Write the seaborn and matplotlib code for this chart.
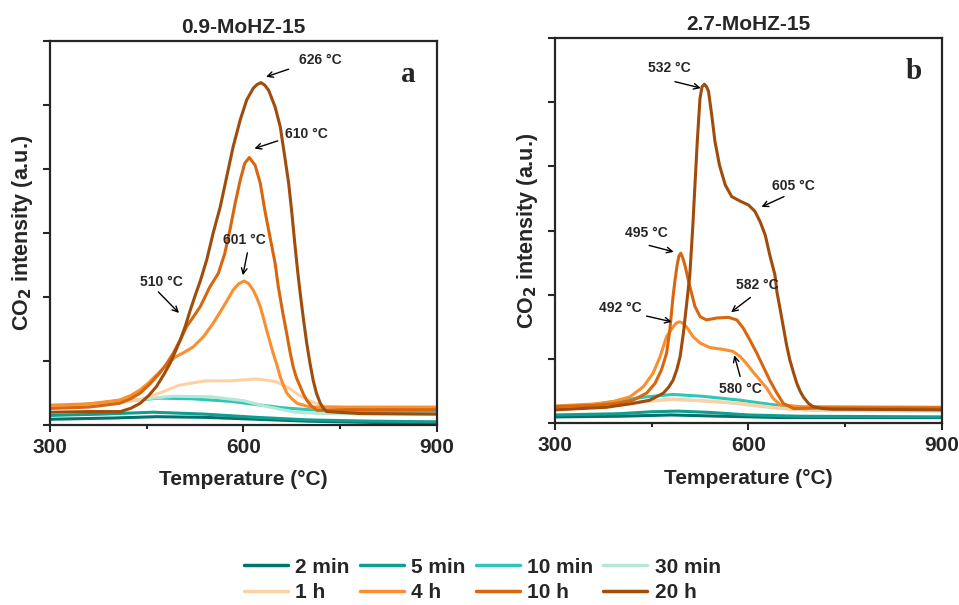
import numpy as np
import pandas as pd
import matplotlib
matplotlib.use("Agg")
import matplotlib.pyplot as plt
import seaborn as sns

# =========================================================
# DATA
# =========================================================

times = ["2 min", "5 min", "10 min", "30 min", "1 h", "4 h", "10 h", "20 h"]
colors = ["#00746c", "#0f9e8f", "#2ec6b6", "#b5e6d6",
          "#fdd1a6", "#f98f2e", "#d8660f", "#a04c0b"]

# ---------------- panel a : 0.9-MoHZ-15 ----------------
a_2min_t = [300, 400, 465, 540, 620, 700, 800, 900]
a_2min_y = [0.09, 0.11, 0.13, 0.12, 0.09, 0.06, 0.04, 0.03]

a_5min_t = [300, 380, 460, 540, 620, 700, 800, 900]
a_5min_y = [0.15, 0.17, 0.20, 0.17, 0.12, 0.08, 0.06, 0.05]

a_10min_t = [300, 360, 420, 470, 520, 580, 620, 660, 700, 750, 900]
a_10min_y = [0.28, 0.33, 0.38, 0.42, 0.41, 0.37, 0.32, 0.27, 0.24, 0.22, 0.20]

a_30min_t = [300, 380, 440, 490, 550, 600, 640, 680, 720, 800, 900]
a_30min_y = [0.26, 0.30, 0.40, 0.45, 0.44, 0.38, 0.28, 0.20, 0.18, 0.17, 0.17]

a_1h_t = [300, 400, 440, 470, 500, 540, 580, 620, 650, 670, 690, 720, 760, 900]
a_1h_y = [0.30, 0.34, 0.40, 0.50, 0.62, 0.69, 0.69, 0.72, 0.68, 0.58, 0.44, 0.30, 0.27, 0.26]

a_4h_t = [300, 360, 408, 425, 440, 453, 465, 481, 494, 507, 522, 538, 553, 569, 584, 593,
          601, 608, 615, 621, 626, 631, 636, 641, 646, 652, 657, 662, 667, 675, 683, 703,
          760, 900]
a_4h_y = [0.31, 0.33, 0.39, 0.46, 0.55, 0.66, 0.78, 0.94, 1.06, 1.13, 1.22, 1.38, 1.59, 1.85, 2.11, 2.21,
          2.25, 2.21, 2.11, 1.98, 1.85, 1.67, 1.48, 1.30, 1.12, 0.93, 0.75, 0.62, 0.50, 0.41, 0.34, 0.28,
          0.28, 0.28]

a_10h_t = [300, 360, 408, 425, 440, 455, 470, 481, 491, 502, 512, 523, 533, 548, 561, 571,
           579, 587, 595, 602, 609, 618, 626, 633, 641, 649, 654, 661, 667, 672, 677, 682,
           688, 693, 698, 705, 714, 760, 900]
a_10h_y = [0.26, 0.28, 0.34, 0.41, 0.50, 0.64, 0.81, 0.96, 1.12, 1.33, 1.54, 1.70, 1.85, 2.16, 2.37, 2.68,
           3.05, 3.46, 3.83, 4.09, 4.18, 4.06, 3.78, 3.36, 2.94, 2.53, 2.16, 1.75, 1.43, 1.15, 0.91, 0.74,
           0.60, 0.48, 0.39, 0.30, 0.23, 0.24, 0.24]

a_20h_t = [300, 360, 409, 425, 440, 453, 465, 476, 486, 494, 502, 510, 517, 525, 533, 543,
           553, 564, 574, 584, 595, 605, 615, 621, 627, 633, 639, 649, 657, 664, 670, 675,
           680, 684, 688, 693, 698, 703, 708, 713, 719, 724, 729, 780, 900]
a_20h_y = [0.20, 0.21, 0.21, 0.26, 0.34, 0.46, 0.60, 0.78, 0.96, 1.14, 1.33, 1.55, 1.78, 2.02, 2.25, 2.58,
           3.00, 3.41, 3.88, 4.35, 4.77, 5.08, 5.26, 5.32, 5.35, 5.31, 5.23, 4.97, 4.66, 4.19, 3.78, 3.31,
           2.79, 2.40, 2.05, 1.65, 1.28, 0.97, 0.70, 0.50, 0.34, 0.26, 0.21, 0.18, 0.17]

# ---------------- panel b : 2.7-MoHZ-15 ----------------
b_2min_t = [300, 400, 480, 560, 650, 750, 900]
b_2min_y = [0.10, 0.11, 0.13, 0.11, 0.09, 0.09, 0.09]

b_5min_t = [300, 400, 450, 490, 540, 600, 680, 900]
b_5min_y = [0.13, 0.15, 0.18, 0.19, 0.17, 0.13, 0.11, 0.10]

b_10min_t = [300, 360, 406, 440, 483, 530, 587, 630, 664, 720, 900]
b_10min_y = [0.26, 0.29, 0.36, 0.41, 0.45, 0.42, 0.36, 0.30, 0.26, 0.23, 0.21]

b_30min_t = [300, 400, 480, 560, 640, 700, 900]
b_30min_y = [0.22, 0.30, 0.38, 0.33, 0.24, 0.20, 0.19]

b_1h_t = [300, 360, 406, 440, 483, 530, 587, 630, 664, 720, 900]
b_1h_y = [0.21, 0.25, 0.30, 0.34, 0.37, 0.35, 0.31, 0.26, 0.22, 0.22, 0.23]

b_4h_t = [300, 360, 390, 416, 437, 452, 463, 473, 483, 488, 493, 498, 504, 514, 525, 540,
          561, 576, 587, 597, 607, 618, 628, 638, 649, 680, 900]
b_4h_y = [0.27, 0.30, 0.34, 0.41, 0.57, 0.78, 1.04, 1.35, 1.50, 1.56, 1.58, 1.56, 1.50, 1.35, 1.25, 1.18,
          1.15, 1.12, 1.04, 0.93, 0.80, 0.67, 0.55, 0.39, 0.29, 0.26, 0.25]

b_10h_t = [300, 360, 396, 421, 442, 455, 465, 473, 478, 483, 486, 489, 492, 495, 498, 502,
           509, 517, 525, 535, 551, 569, 582, 592, 602, 613, 623, 633, 644, 654, 670, 720, 900]
b_10h_y = [0.26, 0.28, 0.31, 0.36, 0.47, 0.62, 0.83, 1.09, 1.45, 1.97, 2.22, 2.44, 2.60, 2.65, 2.58, 2.44,
           2.13, 1.82, 1.66, 1.61, 1.64, 1.65, 1.61, 1.48, 1.30, 1.09, 0.88, 0.67, 0.47, 0.31, 0.23, 0.24, 0.24]

b_20h_t = [300, 380, 421, 447, 468, 476, 483, 489, 494, 499, 504, 509, 513.5, 517, 520.6, 524.8,
           528, 531.5, 535, 538, 543, 548, 555, 564, 574, 587, 600, 610, 618, 626, 633, 641,
           644, 649, 654, 659, 664, 670, 675, 680, 685, 693, 700, 715, 730, 900]
b_20h_y = [0.21, 0.25, 0.31, 0.36, 0.47, 0.56, 0.67, 0.84, 1.04, 1.40, 1.85, 2.31, 3.04, 3.71, 4.39, 5.06,
           5.24, 5.28, 5.24, 5.17, 4.80, 4.39, 4.02, 3.71, 3.53, 3.46, 3.40, 3.30, 3.14, 2.93, 2.62, 2.31,
           2.05, 1.78, 1.50, 1.22, 0.99, 0.78, 0.62, 0.50, 0.41, 0.31, 0.26, 0.23, 0.22, 0.21]

curves_a = [(a_2min_t, a_2min_y), (a_5min_t, a_5min_y), (a_10min_t, a_10min_y),
            (a_30min_t, a_30min_y), (a_1h_t, a_1h_y), (a_4h_t, a_4h_y),
            (a_10h_t, a_10h_y), (a_20h_t, a_20h_y)]
curves_b = [(b_2min_t, b_2min_y), (b_5min_t, b_5min_y), (b_10min_t, b_10min_y),
            (b_30min_t, b_30min_y), (b_1h_t, b_1h_y), (b_4h_t, b_4h_y),
            (b_10h_t, b_10h_y), (b_20h_t, b_20h_y)]

titles = ["0.9-MoHZ-15", "2.7-MoHZ-15"]
letters = ["a", "b"]

# peak labels: text, text position, arrow tail, arrow head (data units)
notes_a = [
    ("626 °C", (719, 5.70), (670, 5.56), (635, 5.44)),
    ("610 °C", (697, 4.55), (653, 4.44), (617, 4.32)),
    ("601 °C", (602, 2.89), (606, 2.69), (599, 2.34)),
    ("510 °C", (472, 2.23), (468, 2.08), (500, 1.75)),
]
notes_b = [
    ("532 °C", (477, 5.53), (486, 5.32), (526, 5.22)),
    ("605 °C", (670, 3.70), (655, 3.53), (620, 3.37)),
    ("495 °C", (442, 2.96), (446, 2.77), (484, 2.67)),
    ("492 °C", (401, 1.79), (442, 1.67), (481, 1.58)),
    ("582 °C", (613, 2.15), (603, 1.96), (573, 1.73)),
    ("580 °C", (587, 0.53), (587, 0.73), (578, 1.06)),
]


def long_frame(curves):
    rows = []
    for name, (t, y) in zip(times, curves):
        for ti, yi in zip(t, y):
            rows.append({"T": ti, "I": yi, "time": name})
    return pd.DataFrame(rows)


# =========================================================
# STYLE
# =========================================================

sns.set_style("ticks")
plt.rcParams["font.family"] = ["Liberation Sans", "DejaVu Sans"]
plt.rcParams["font.weight"] = "bold"
plt.rcParams["axes.linewidth"] = 1.6

fig = plt.figure(figsize=(9.59, 6.05), dpi=100)
ax_a = fig.add_axes([0.0521, 0.2975, 0.4036, 0.6347])
ax_b = fig.add_axes([0.5787, 0.3003, 0.4036, 0.6369])

palette = dict(zip(times, colors))

for ax, curves, title, letter, notes in zip(
        [ax_a, ax_b], [curves_a, curves_b], titles, letters, [notes_a, notes_b]):

    df = long_frame(curves)

    sns.lineplot(
        data=df, x="T", y="I", hue="time", hue_order=times,
        palette=palette, sort=False, estimator=None,
        linewidth=2.2, ax=ax, legend=False
    )

    ax.set_xlim(300, 900)
    ax.set_ylim(0, 6)
    ax.set_xticks([300, 600, 900])
    ax.set_xticks([450, 750], minor=True)
    ax.set_yticks([0, 1, 2, 3, 4, 5, 6])
    ax.set_yticklabels([])
    ax.tick_params(axis="both", which="major", direction="out",
                   length=5, width=1.5, labelsize=15, pad=4)
    ax.tick_params(axis="x", which="minor", direction="out",
                   length=3, width=1.5)
    for lab in ax.get_xticklabels():
        lab.set_fontweight("bold")

    ax.set_xlabel("Temperature (°C)", fontsize=15, fontweight="bold", labelpad=10)
    ax.set_ylabel("CO$_\\mathbf{2}$ intensity (a.u.)", fontsize=15.5,
                  fontweight="bold", labelpad=2)
    ax.set_title(title, fontsize=15, fontweight="bold", pad=6)

    ax.text(0.926, 0.912, letter, transform=ax.transAxes, ha="center",
            va="center", fontsize=21, fontweight="bold",
            family=["Liberation Serif", "DejaVu Serif"])

    for txt, pos, tail, head in notes:
        ax.annotate("", xy=head, xytext=tail,
                    arrowprops=dict(arrowstyle="->", color="black", lw=1.0,
                                    shrinkA=0, shrinkB=0))
        ax.text(pos[0], pos[1], txt, ha="center", va="center",
                fontsize=10, fontweight="bold")

# =========================================================
# LEGEND
# =========================================================

handles = [plt.Line2D([], [], color=c, lw=2.5) for c in colors]
order = [0, 4, 1, 5, 2, 6, 3, 7]

fig.legend(
    [handles[i] for i in order], [times[i] for i in order],
    ncol=4, loc="lower center", bbox_to_anchor=(0.503, -0.012),
    frameon=False, prop={"weight": "bold", "size": 15},
    handlelength=2.1, handletextpad=0.35, columnspacing=0.5,
    labelspacing=0.3, borderpad=0.0
)

plt.savefig("out.png", dpi=100)
